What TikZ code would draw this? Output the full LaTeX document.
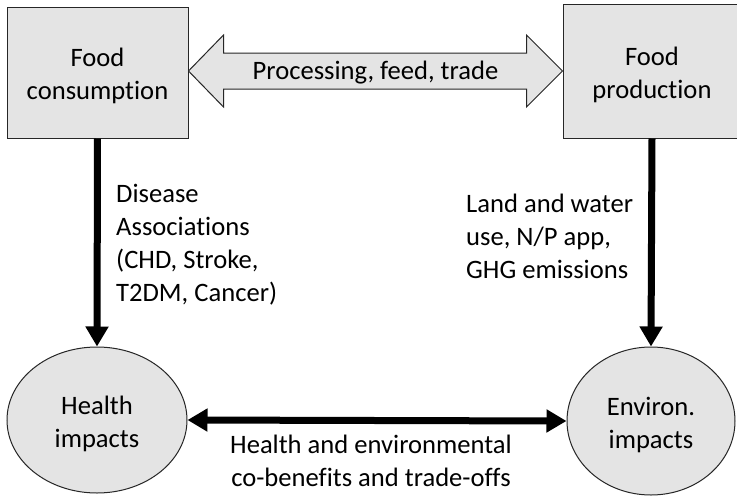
\documentclass[tikz,border=0pt]{standalone}
\usepackage{fontspec}
\setmainfont{Carlito}[Ligatures=NoCommon]
\usetikzlibrary{arrows.meta,calc,shapes.geometric}
\definecolor{boxfill}{HTML}{E4E4E4}
\begin{document}
\begin{tikzpicture}[x=1pt,y=-1pt,
  every node/.style={font=\fontsize{26.6}{33}\selectfont, text=black},
  box/.style={draw=black!85, line width=1pt, fill=boxfill, rectangle, inner sep=0pt},
  ell/.style={draw=black!85, line width=1pt, fill=boxfill, ellipse, inner sep=0pt},
  intext/.style={align=center, inner sep=0pt},
  thickarrow/.style={line width=7pt, -{Triangle[length=20pt,width=22pt]}},
  thickdouble/.style={line width=7pt, {Triangle[length=20pt,width=22pt]}-{Triangle[length=20pt,width=22pt]}},
  blockarr/.style={draw=black!85, line width=1pt, fill=boxfill, line join=miter},
  lab/.style={align=left, anchor=west, inner sep=0pt}
]
\clip (0,0) rectangle (737,496);
\useasboundingbox (0,0) rectangle (737,496);
\fill[white] (0,0) rectangle (737,496);

\node[box, minimum width=181pt, minimum height=131pt] (cons) at (97.5,72.5) {};
\node[box, minimum width=178pt, minimum height=134pt] (prod) at (652,71) {};
\node[ell, minimum width=180pt, minimum height=146pt] (health) at (97,420) {};
\node[ell, minimum width=168pt, minimum height=148pt] (env) at (651,421) {};

\node[intext] (consT) at ($(cons.center)+(0,3.5)$) {Food\\consumption};
\node[intext] (prodT) at ($(prod.center)+(0,4)$) {Food\\production};
\node[intext] (healthT) at ($(health.center)+(0,4)$) {Health\\impacts};
\node[intext] (envT) at ($(env.center)+(0,4)$) {Environ.\\impacts};

% block double arrow
\coordinate (L) at (cons.east |- prod.west);
\coordinate (R) at (prod.west);
\draw[blockarr] (L) -- ++(35,-36) -- ++(0,18) -- ($(R)+(-36,-18)$) -- ++(0,-18) -- (R)
  -- ++(-36,36) -- ++(0,-18) -- ($(L)+(35,18)$) -- ++(0,18) -- cycle;
\node (proc) at ($(L)!0.5!(R)+(0,1.5)$) {Processing, feed, trade};

% vertical arrows
\draw[thickarrow] (cons.south) -- (health.north);
\draw[thickarrow] (prod.south) -- (env.north);

% horizontal double arrow
\draw[thickdouble] (health.east) -- (env.west);

% labels
\node[lab] (dis) at (116,245) {Disease\\Associations\\(CHD, Stroke,\\T2DM, Cancer)};
\node[lab] (land) at (466,236) {Land and water\\use, N/P app,\\GHG emissions};
\node[align=center, inner sep=0pt] (cob) at (371,461) {Health and environmental\\co-benefits and trade-offs};
\end{tikzpicture}
\end{document}
